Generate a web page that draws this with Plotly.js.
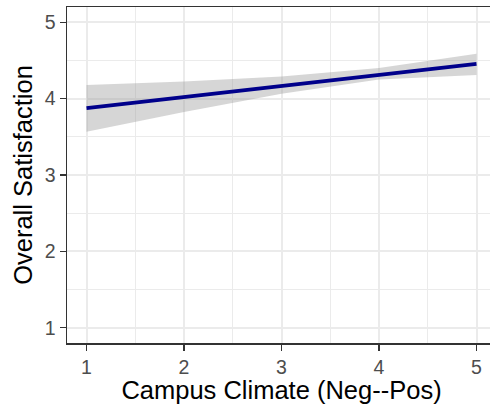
<!DOCTYPE html>
<html>
<head>
<meta charset="utf-8">
<script src="https://cdn.plot.ly/plotly-3.0.1.min.js"></script>
<style>
html, body { margin:0; padding:0; overflow:hidden; background:#fff; }
#chart { width:496px; height:404px; }
</style>
</head>
<body>
<div id="chart"></div>
<script>
// Data
const climate = [1, 2, 3, 4, 5];
const fitted = [3.877, 4.022, 4.166, 4.311, 4.456];
const upper  = [4.18, 4.225, 4.29, 4.40, 4.587];
const lower  = [3.565, 3.826, 4.065, 4.25, 4.31];
const xTicks = [1, 2, 3, 4, 5];
const yTicks = [1, 2, 3, 4, 5];

const band = {
  x: climate.concat(climate.slice().reverse()),
  y: upper.concat(lower.slice().reverse()),
  type: 'scatter', mode: 'lines', fill: 'toself',
  fillcolor: 'rgba(153,153,153,0.4)', line: {width: 0},
  hoverinfo: 'skip', showlegend: false
};
const line = {
  x: climate, y: fitted, type: 'scatter', mode: 'lines',
  line: {color: '#00008B', width: 3.8}, showlegend: false
};

const axisCommon = {
  showline: true, mirror: true, linecolor: '#333333', linewidth: 1.5,
  ticks: 'outside', ticklen: 6, tickwidth: 1.5, tickcolor: '#333333',
  showgrid: true, gridcolor: '#ebebeb', gridwidth: 2,
  zeroline: false,
  tickfont: {family: 'Liberation Sans, Arial, sans-serif', size: 19.5, color: '#4d4d4d'},
  minor: {dtick: 0.5, showgrid: true, gridcolor: '#ebebeb', gridwidth: 1, ticks: ''}
};

const layout = {
  width: 496, height: 404,
  margin: {l: 67, r: 0, t: 7, b: 61},
  paper_bgcolor: '#ffffff', plot_bgcolor: '#ffffff',
  xaxis: Object.assign({}, axisCommon, {
    range: [0.8, 5.2], tickvals: xTicks, ticktext: xTicks.map(String),
    title: {text: 'Campus Climate (Neg--Pos)', standoff: 5,
      font: {family: 'Liberation Sans, Arial, sans-serif', size: 25.5, color: '#000'}}
  }),
  yaxis: Object.assign({}, axisCommon, {
    range: [0.8, 5.2], tickvals: yTicks, ticktext: yTicks.map(String),
    title: {text: 'Overall Satisfaction', standoff: 5,
      font: {family: 'Liberation Sans, Arial, sans-serif', size: 25.5, color: '#000'}}
  }),
  showlegend: false
};

Plotly.newPlot('chart', [band, line], layout, {displayModeBar: false, staticPlot: true});
</script>
</body>
</html>
